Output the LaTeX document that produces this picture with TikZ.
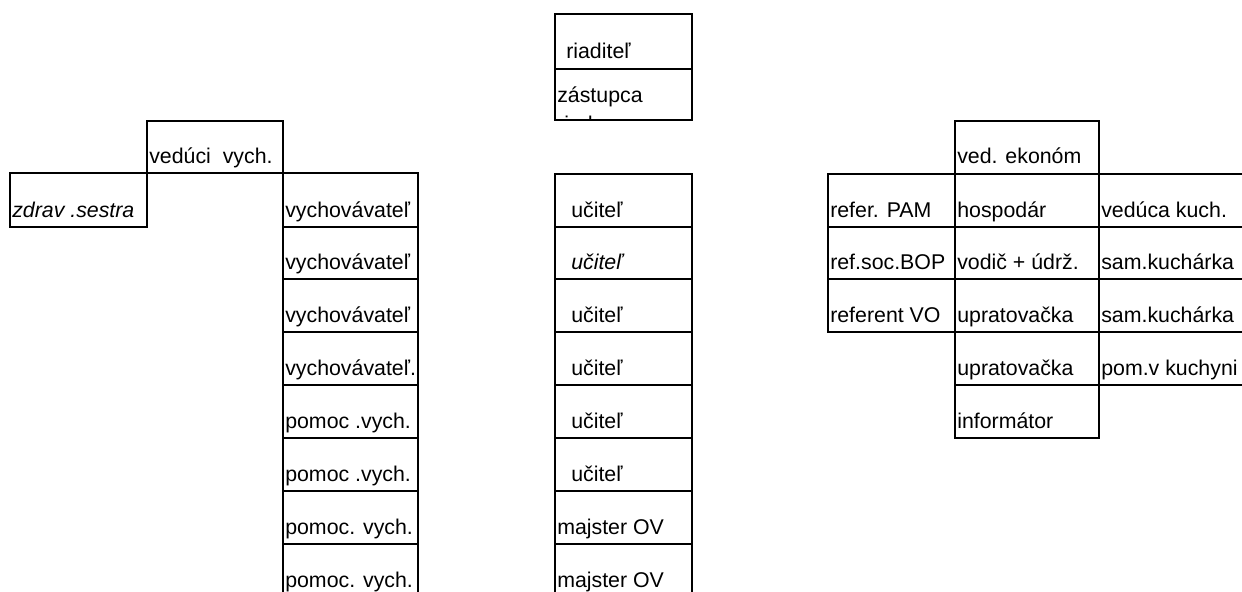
\documentclass[tikz,border=0pt]{standalone}
\usepackage{fontspec}
\setmainfont{Liberation Sans}
\begin{document}
\begin{tikzpicture}[x=0.75pt,y=-0.75pt,
  cell/.style={line width=1.8pt,line join=miter},
  lbl/.style={anchor=base west,inner sep=0pt,font=\fontsize{16}{19}\selectfont},
  ilbl/.style={lbl,font=\fontsize{16}{19}\selectfont\itshape}]
\useasboundingbox (0,0) rectangle (1242,592);
\fill[white] (0,0) rectangle (1242,592);
\clip (0,0) rectangle (1242,592);
% ---------- top box
\draw[cell] (555,14) rectangle (692,120);
\draw[cell] (555,69) -- (692,69);
\node[lbl] (riad) at (566,59) {riaditeľ};
\begin{scope}
  \clip (556,70) rectangle (691,119);
  \node[lbl] (zast) at (557,103) {zástupca};
  \node[lbl] (zast2) at (557,131) {riad.};
\end{scope}
% ---------- left group
\draw[cell] (147,121) rectangle (283,173);
\node[lbl] (vedvych) at (149,163) {vedúci\ \ vych.};
\draw[cell] (10,173) rectangle (147,227);
\node[ilbl] (zdrav) at (12,217) {zdrav .sestra};
\draw[cell] (283,173) rectangle (418,600);
\foreach \y in {227,279,332,385,438,491,544} \draw[cell] (283,\y) -- (418,\y);
\node[lbl] (v1) at (285,217) {vychovávateľ};
\node[lbl] (v2) at (285,269) {vychovávateľ};
\node[lbl] (v3) at (285,322) {vychovávateľ};
\node[lbl] (v4) at (285,375) {vychovávateľ.};
\node[lbl] (p1) at (285,428) {pomoc .vych.};
\node[lbl] (p2) at (285,481) {pomoc .vych.};
\node[lbl] (p3) at (285,534) {pomoc. vych.};
\node[lbl] (p4) at (285,587) {pomoc. vych.};
% ---------- middle column
\draw[cell] (555,174) rectangle (692,600);
\foreach \y in {227,279,332,385,438,491,544} \draw[cell] (555,\y) -- (692,\y);
\node[lbl] (u1) at (571,217) {učiteľ};
\node[ilbl] (u2) at (571,269) {učiteľ};
\node[lbl] (u3) at (571,322) {učiteľ};
\node[lbl] (u4) at (571,375) {učiteľ};
\node[lbl] (u5) at (571,428) {učiteľ};
\node[lbl] (u6) at (571,481) {učiteľ};
\node[lbl] (m1) at (557,534) {majster OV};
\node[lbl] (m2) at (557,587) {majster OV};
% ---------- right group
\draw[cell] (955,121) rectangle (1099,174);
\node[lbl] (ekon) at (957,163) {ved. ekonóm};
\draw[cell] (828,174) rectangle (955,332);
\foreach \y in {227,279} \draw[cell] (828,\y) -- (955,\y);
\node[lbl] (r1) at (830,217) {refer. PAM};
\node[lbl] (r2) at (830,269) {ref.soc.BOP};
\node[lbl] (r3) at (830,322) {referent VO};
\draw[cell] (955,174) rectangle (1099,438);
\foreach \y in {227,279,332,385} \draw[cell] (955,\y) -- (1099,\y);
\node[lbl] (h1) at (957,217) {hospodár};
\node[lbl] (h2) at (957,269) {vodič + údrž.};
\node[lbl] (h3) at (957,322) {upratovačka};
\node[lbl] (h4) at (957,375) {upratovačka};
\node[lbl] (h5) at (957,428) {informátor};
\draw[cell] (1250,174) -- (1099,174) -- (1099,385) -- (1250,385);
\foreach \y in {227,279,332} \draw[cell] (1099,\y) -- (1250,\y);
\node[lbl] (k1) at (1101,217) {vedúca kuch.};
\node[lbl] (k2) at (1101,269) {sam.kuchárka};
\node[lbl] (k3) at (1101,322) {sam.kuchárka};
\node[lbl] (k4) at (1101,375) {pom.v kuchyni};
\end{tikzpicture}
\end{document}
